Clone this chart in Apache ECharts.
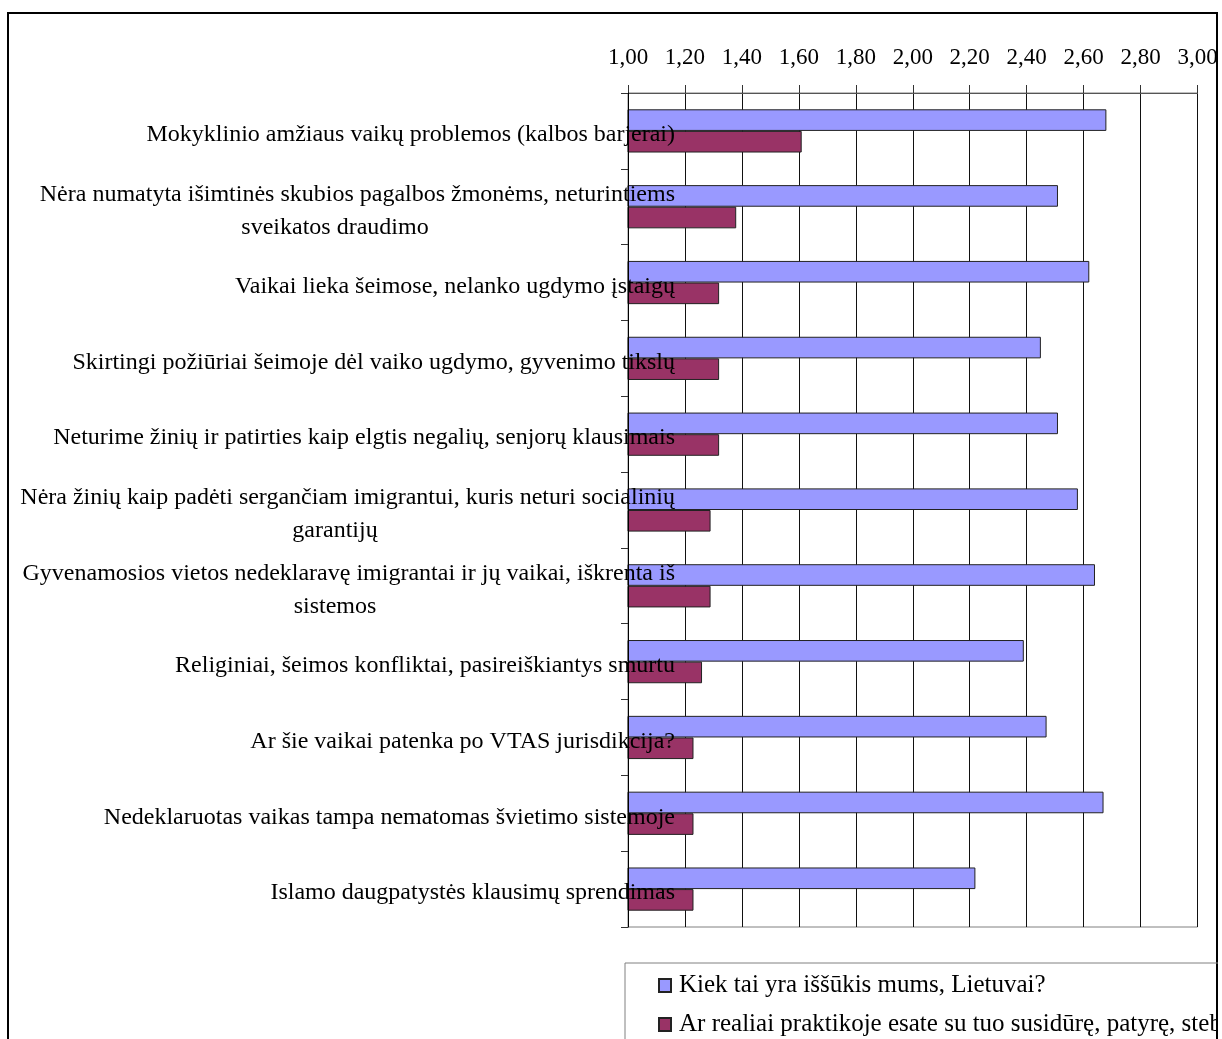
<!DOCTYPE html>
<html>
	<head>
		<meta charset="UTF-8">
		<title></title>
		<script src="https://cdn.jsdelivr.net/npm/echarts@6/dist/echarts.min.js"></script>
		<style>
			body { margin: 0; background: #fff; }
			#chart { position: absolute; left: 0; top: 0; width: 1218px; height: 1039px; overflow: hidden; }
		</style>
	</head>
	<body>
		<div id="chart"></div>
		<script type="text/javascript">
			// kategorijos (virsus -> apacia)
			var categories = [
				'Mokyklinio amžiaus vaikų problemos (kalbos barjerai)',
				'Nėra numatyta išimtinės skubios pagalbos žmonėms, neturintiems\nsveikatos draudimo',
				'Vaikai lieka šeimose, nelanko ugdymo įstaigų',
				'Skirtingi požiūriai šeimoje dėl vaiko ugdymo, gyvenimo tikslų',
				'Neturime žinių ir patirties kaip elgtis negalių, senjorų klausimais',
				'Nėra žinių kaip padėti sergančiam imigrantui, kuris neturi socialinių\ngarantijų',
				'Gyvenamosios vietos nedeklaravę imigrantai ir jų vaikai, iškrenta iš\nsistemos',
				'Religiniai, šeimos konfliktai, pasireiškiantys smurtu',
				'Ar šie vaikai patenka po VTAS jurisdikcija?',
				'Nedeklaruotas vaikas tampa nematomas švietimo sistemoje',
				'Islamo daugpatystės klausimų sprendimas'
			];
			var seriesNames = [
				'Kiek tai yra iššūkis mums, Lietuvai?',
				'Ar realiai praktikoje esate su tuo susidūrę, patyrę, stebėję?'
			];
			var challenge = [2.68, 2.51, 2.62, 2.45, 2.51, 2.58, 2.64, 2.39, 2.47, 2.67, 2.22];
			var experienced = [1.61, 1.38, 1.32, 1.32, 1.32, 1.29, 1.29, 1.26, 1.23, 1.23, 1.23];

			var serif = 'Liberation Serif';
			var myChart = echarts.init(document.getElementById('chart'));

			myChart.setOption({
				animation: false,
				backgroundColor: '#fff',
				textStyle: { fontFamily: serif, color: '#000' },
				grid: {
					left: 628, top: 93, right: 20.5, bottom: 112,
					outerBoundsMode: 'none',
					containLabel: false,
					show: true, borderColor: '#808080', borderWidth: 1
				},
				graphic: [{
					type: 'rect', z: -1,
					shape: { x: 8, y: 13, width: 1209, height: 1100 },
					style: { fill: null, stroke: '#000', lineWidth: 2 }
				}],
				legend: {
					orient: 'vertical',
					left: 625, top: 963,
					height: 140,
					padding: [10, 20, 20, 33],
					itemGap: 14,
					itemWidth: 12, itemHeight: 13,
					icon: 'rect',
					borderColor: '#808080', borderWidth: 1,
					textStyle: { fontFamily: serif, fontSize: 25, color: '#000', padding: [0, 0, 0, 3] },
					data: seriesNames
				},
				xAxis: {
					type: 'value',
					position: 'top',
					min: 1, max: 3, interval: 0.2,
					axisLine: { show: true, lineStyle: { color: '#555', width: 1 } },
					axisTick: { show: true, inside: false, length: 8, lineStyle: { color: '#333' } },
					axisLabel: {
						fontFamily: serif, fontSize: 23, color: '#000', margin: 24,
						formatter: function(v) { return v.toFixed(2).replace('.', ','); }
					},
					splitLine: { show: true, lineStyle: { color: '#111', width: 1 } }
				},
				yAxis: {
					type: 'category',
					inverse: true,
					z: 5,
					data: categories,
					axisLine: { show: true, lineStyle: { color: '#000', width: 1 } },
					axisTick: { show: true, length: 7, lineStyle: { color: '#333' } },
					axisLabel: {
						interval: 0,
						margin: -47,
						align: 'right',
						padding: [8, 0, 0, 0],
						fontFamily: serif, fontSize: 24, color: '#000',
						formatter: function(v) {
							var p = v.split('\n');
							if (p.length > 1) return '{a|' + p[0] + '}\n{b|' + p[1] + '}';
							return '{a|' + v + '}';
						},
						rich: {
							a: { fontFamily: serif, fontSize: 24, color: '#000', lineHeight: 33 },
							b: { fontFamily: serif, fontSize: 24, color: '#000', lineHeight: 33, width: 680, align: 'center' }
						}
					}
				},
				series: [{
					name: seriesNames[0],
					type: 'bar',
					data: challenge,
					barGap: '0%',
					barCategoryGap: '43%',
					itemStyle: { color: '#9999FF', borderColor: '#222', borderWidth: 1 }
				}, {
					name: seriesNames[1],
					type: 'bar',
					data: experienced,
					itemStyle: { color: '#993366', borderColor: '#222', borderWidth: 1 }
				}]
			});
		</script>
	</body>
</html>
